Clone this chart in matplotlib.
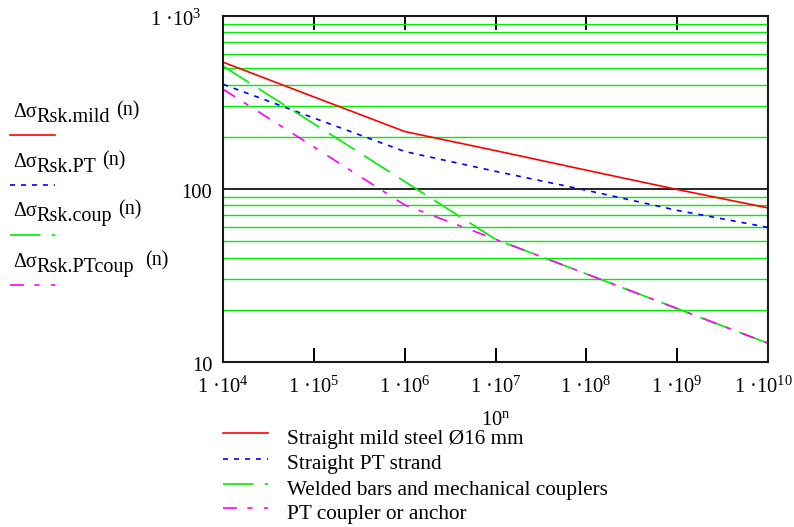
import numpy as np
import matplotlib
matplotlib.use("Agg")
import matplotlib.pyplot as plt
from matplotlib.ticker import NullLocator, LogLocator
from matplotlib.transforms import ScaledTranslation

# fatigue cycles, plotted as 10^n
n_exp = [4, 5, 6, 7, 8, 9, 10]

# characteristic fatigue stress range (MPa) per family
ds_mild = [538, 339, 214, 166, 128, 99, 77.5]
ds_pt = [401, 256, 164, 126, 98, 75, 59.8]
ds_coup = [510, 237, 110, 51, 32.2, 20.3, 12.8]
ds_ptcoup = [375, 174, 80.5, 51, 32.2, 20.3, 12.8]

series_names = ["Straight mild steel Ø16 mm", "Straight PT strand",
                "Welded bars and mechanical couplers", "PT coupler or anchor"]
trace_subs = ["Rsk.mild", "Rsk.PT", "Rsk.coup", "Rsk.PTcoup"]
ytick_vals = [10, 100, 1000]
ytick_text = ["10", "100", "1 ·10$^{3}$"]

plt.rcParams["font.family"] = ["Liberation Serif", "DejaVu Serif"]
plt.rcParams["mathtext.fontset"] = "custom"
plt.rcParams["mathtext.rm"] = "Liberation Serif"
plt.rcParams["mathtext.it"] = "Liberation Serif:italic"
plt.rcParams["mathtext.default"] = "regular"
plt.rcParams["lines.scale_dashes"] = False

styles = [
    dict(color="#ff0000", linestyle="-"),
    dict(color="#0000ff", linestyle=(0, (3.6, 4.3))),
    dict(color="#00ee00", linestyle=(0, (22, 8))),
    dict(color="#ff00ff", linestyle=(0, (10, 7.6, 3.6, 8.4))),
]
LW = 1.2
FS = 14.8

fig = plt.figure(figsize=(7.94, 5.27), dpi=100)
ax = fig.add_axes([223.3 / 794, 1 - 361.7 / 527,
                   (767.7 - 223.3) / 794, (361.7 - 15.7) / 527])

x = 10.0 ** np.array(n_exp)
for vals, st in zip([ds_mild, ds_pt, ds_coup, ds_ptcoup], styles):
    ax.plot(x, vals, lw=LW, **st)

ax.set_xscale("log")
ax.set_yscale("log")
ax.set_xlim(1e4, 1e10)
ax.set_ylim(10, 1000)

ax.set_xticks(x, ["1 ·10$^{%d}$" % e for e in n_exp], fontsize=FS)
ax.xaxis.set_minor_locator(NullLocator())
ax.tick_params(axis="x", which="major", direction="in", top=True,
               bottom=True, length=10, width=1.4, pad=11)
# pull the last label in a little so it stays on the canvas
last = ax.get_xticklabels()[-1]
last.set_transform(last.get_transform()
                   + ScaledTranslation(-3 / 72, 0, fig.dpi_scale_trans))

# horizontal grid: black at decades, green in between
ax.yaxis.set_major_locator(LogLocator(base=10))
ax.yaxis.set_minor_locator(LogLocator(base=10, subs=np.arange(2, 10)))
ax.tick_params(axis="y", which="both", length=0, labelleft=False)
ax.grid(True, axis="y", which="minor", color="#00ee00", lw=1.0)
ax.grid(True, axis="y", which="major", color="black", lw=1.2)
ax.set_axisbelow(True)

for sp in ax.spines.values():
    sp.set_linewidth(1.5)
    sp.set_color("#1a1a1a")

# y labels, offset individually from the left spine
ytick_dx = [-7.6, -8.4, -15.6]
for v, t, dx in zip(ytick_vals, ytick_text, ytick_dx):
    ax.annotate(t, xy=(0, v), xycoords=ax.get_yaxis_transform(),
                xytext=(dx, -7), textcoords="offset points",
                ha="right", va="baseline", fontsize=FS)

ax.set_xlabel("10$^{\\mathrm{n}}$", fontsize=FS, labelpad=9.5)

# overlay in pixel coordinates for the two legends
ov = fig.add_axes([0, 0, 1, 1], zorder=-1)
ov.set_xlim(0, 794)
ov.set_ylim(527, 0)
ov.axis("off")

# trace labels on the left
sample_y = [135, 185, 234.5, 285]
paren_gap = [4, 4, 4, 8]
for sub, st, y, gap in zip(trace_subs, styles, sample_y, paren_gap):
    ov.plot([9.5, 55], [y, y], lw=LW, **st)
    t0 = ov.text(13, y - 18, "Δσ", fontsize=14.5, va="baseline")
    t1 = ov.annotate(sub, xy=(1, 0), xycoords=t0, xytext=(0, -3.6),
                     textcoords="offset points", va="bottom", fontsize=14.5)
    ov.annotate("(n)", xy=(1, 0), xycoords=t1, xytext=(gap, 5),
                textcoords="offset points", va="bottom", fontsize=14.5)

# series legend below the plot
legend_y = [433.3, 459, 484.3, 508.3]
for name, st, y in zip(series_names, styles, legend_y):
    ov.plot([222.7, 268.3], [y, y], lw=LW, **st)
    ov.text(286.7, y + 10.5, name, fontsize=15.3, va="baseline")

fig.savefig("out.png", dpi=100)
